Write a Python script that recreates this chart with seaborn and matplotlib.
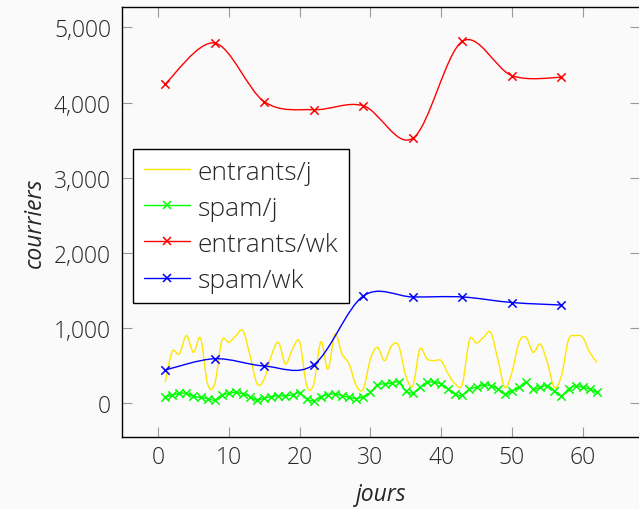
import numpy as np
import pandas as pd
import seaborn as sns
import matplotlib
matplotlib.use("Agg")
import matplotlib.pyplot as plt
from matplotlib.path import Path
from matplotlib.patches import PathPatch
from matplotlib.lines import Line2D

# ---------------- data ----------------
days = [1, 2, 3, 4, 5, 6, 7, 8, 9, 10, 11, 12, 13, 14, 15, 16, 17, 18, 19, 20,
        21, 22, 23, 24, 25, 26, 27, 28, 29, 30, 31, 32, 33, 34, 35, 36, 37, 38, 39, 40,
        41, 42, 43, 44, 45, 46, 47, 48, 49, 50, 51, 52, 53, 54, 55, 56, 57, 58, 59, 60,
        61, 62]
entrants_j = [279, 690, 656, 899, 678, 865, 257, 257, 832, 810, 899, 966, 633, 257, 323,
              633, 810, 523, 722, 819, 234, 257, 819, 456, 921, 656, 523, 234, 190, 589,
              744, 567, 766, 766, 367, 234, 722, 589, 567, 567, 390, 257, 257, 846, 801,
              878, 944, 589, 212, 412, 810, 878, 678, 788, 545, 212, 367, 846, 899, 878,
              678, 545]
spam_j = [79, 110, 132, 132, 93, 79, 62, 44, 106, 132, 146, 124, 88, 44, 70,
          88, 101, 97, 115, 137, 57, 35, 88, 115, 124, 101, 79, 62, 88, 146,
          245, 257, 265, 279, 168, 137, 212, 279, 279, 257, 190, 124, 110, 190, 212,
          243, 234, 190, 124, 168, 212, 279, 190, 212, 234, 168, 101, 190, 234, 212,
          190, 146]
weeks = [1, 8, 15, 22, 29, 36, 43, 50, 57]
entrants_wk = [4246, 4791, 4011, 3904, 3957, 3524, 4814, 4357, 4335]
spam_wk = [443, 593, 496, 513, 1427, 1414, 1414, 1340, 1307]

series_names = ["entrants/j", "spam/j", "entrants/wk", "spam/wk"]
x_ticks = [0, 10, 20, 30, 40, 50, 60]
y_ticks = [0, 1000, 2000, 3000, 4000, 5000]
y_tick_labels = ["0", "1,000", "2,000", "3,000", "4,000", "5,000"]

# ---------------- style ----------------
BG = "#fafafa"
sns.set_theme(style="white", rc={"figure.facecolor": BG, "axes.facecolor": BG,
                                 "savefig.facecolor": BG})
plt.rcParams["font.family"] = ["Open Sans", "DejaVu Sans"]
plt.rcParams["font.weight"] = "light"
FS = 16.5
TXT = "#262626"

fig = plt.figure(figsize=(6.39, 5.10), dpi=100)
ax = fig.add_axes([122 / 639, 1 - 438 / 510, 518 / 639, (438 - 8) / 510])


def smooth_path(xs, ys, f=0.165):
    """pgfplots-style smooth Bezier path through the given points."""
    pts = np.column_stack([xs, ys]).astype(float)
    n = len(pts)
    verts = [pts[0]]
    codes = [Path.MOVETO]
    for i in range(n - 1):
        p0 = pts[i - 1] if i > 0 else pts[i]
        p1 = pts[i]
        p2 = pts[i + 1]
        p3 = pts[i + 2] if i + 2 < n else pts[i + 1]
        c1 = p1 + f * (p2 - p0)
        c2 = p2 - f * (p3 - p1)
        verts += [c1, c2, p2]
        codes += [Path.CURVE4] * 3
    return Path(verts, codes)


df_j = pd.DataFrame({"jours": days, "entrants": entrants_j, "spam": spam_j})
df_wk = pd.DataFrame({"jours": weeks, "entrants": entrants_wk, "spam": spam_wk})

colors = {"entrants/j": "#ffe600", "spam/j": "#00ff00",
          "entrants/wk": "#ff0000", "spam/wk": "#0000ff"}
specs = [("entrants/j", df_j, "entrants", False),
         ("spam/j", df_j, "spam", True),
         ("entrants/wk", df_wk, "entrants", True),
         ("spam/wk", df_wk, "spam", True)]

for name, df, col, has_marker in specs:
    c = colors[name]
    ax.add_patch(PathPatch(smooth_path(df["jours"], df[col]), facecolor="none",
                           edgecolor=c, lw=1.0, zorder=3))
    if has_marker:
        sns.scatterplot(data=df, x="jours", y=col, marker="x", color=c, s=36,
                        linewidth=1.1, ax=ax, zorder=4, legend=False)

ax.set_xlim(-5.1, 68.1)
ax.set_ylim(-448, 5270)
ax.set_xticks(x_ticks)
ax.set_xticklabels([str(t) for t in x_ticks])
ax.set_yticks(y_ticks)
ax.set_yticklabels(y_tick_labels)

for s in ax.spines.values():
    s.set_color("black")
    s.set_linewidth(1.0)
    s.set_visible(True)

ax.tick_params(axis="both", which="major", direction="in", length=7.5, width=0.8,
               color="#999999", labelsize=FS, labelcolor=TXT,
               top=True, right=True, bottom=True, left=True)
ax.tick_params(axis="y", pad=8)
ax.tick_params(axis="x", pad=6)

ax.set_xlabel("jours", fontsize=FS, fontstyle="italic", color=TXT, labelpad=9)
ax.set_ylabel("courriers", fontsize=FS, fontstyle="italic", color=TXT, labelpad=5)

handles = []
for name, df, col, has_marker in specs:
    handles.append(Line2D([], [], color=colors[name], lw=1.0,
                          marker="x" if has_marker else None, markersize=6,
                          markeredgewidth=1.1))
LFS = 19
leg = ax.legend(handles, series_names, loc="upper left",
                bbox_to_anchor=((133 - 122) / 518, (438 - 150) / 430),
                fontsize=LFS, frameon=True, fancybox=False, framealpha=1,
                edgecolor="black", facecolor="white", handlelength=1.75,
                handletextpad=0.3, labelspacing=0.42, borderpad=0.4,
                borderaxespad=0)
leg.get_frame().set_linewidth(1.0)
for t in leg.get_texts():
    t.set_color(TXT)

fig.savefig("out.png", dpi=100)
